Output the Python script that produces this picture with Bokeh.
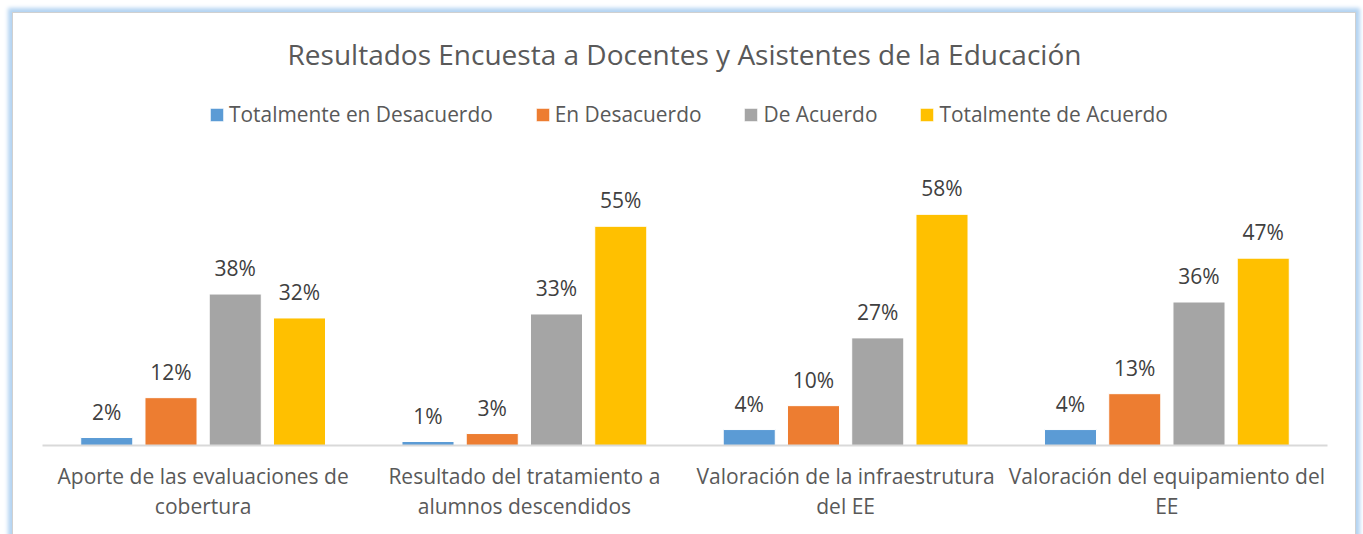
from bokeh.plotting import figure
from bokeh.models import ColumnDataSource, FactorRange, Range1d, LabelSet, Legend, LegendItem, Label
from bokeh.core.properties import value
from bokeh.transform import dodge
from bokeh.embed import file_html
from bokeh.resources import INLINE

title_text = "Resultados Encuesta a Docentes y Asistentes de la Educación"
categories = [
    "Aporte de las evaluaciones de\ncobertura",
    "Resultado del tratamiento a\nalumnos descendidos",
    "Valoración de la infraestrutura\ndel EE",
    "Valoración del equipamiento del\nEE",
]
series_names = ["Totalmente en Desacuerdo", "En Desacuerdo", "De Acuerdo", "Totalmente de Acuerdo"]
totalmente_desacuerdo = [2, 1, 4, 4]
en_desacuerdo = [12, 3, 10, 13]
de_acuerdo = [38, 33, 27, 36]
totalmente_acuerdo = [32, 55, 58, 47]

colors = ["#5B9BD5", "#ED7D31", "#A5A5A5", "#FFC000"]
series = [totalmente_desacuerdo, en_desacuerdo, de_acuerdo, totalmente_acuerdo]
offsets = [-0.3, -0.1, 0.1, 0.3]

data = {"cat": categories}
for i, s in enumerate(series):
    data[f"v{i}"] = s
    data[f"l{i}"] = [f"{v}%" for v in s]
src = ColumnDataSource(data)

FONT = "Open Sans"
TXT = "#595959"

FRAME_H = 432          # frame spans the figure from its top down to the axis
PX_PER_70 = 279        # pixels for 70% in the reference
y_end = 70 * FRAME_H / PX_PER_70

p = figure(
    width=1342, height=521,
    x_range=FactorRange(*categories, range_padding=0),
    y_range=Range1d(0, y_end),
    output_backend="svg", toolbar_location=None,
    min_border_left=29, min_border_right=28, min_border_top=0, min_border_bottom=89,
    background_fill_color="white", border_fill_color="white",
)
p.outline_line_color = None
p.xgrid.visible = False
p.ygrid.visible = False
p.yaxis.visible = False
p.xaxis.axis_line_color = "#D9D9D9"
p.xaxis.axis_line_width = 2
p.xaxis.major_tick_line_color = None
p.xaxis.minor_tick_line_color = None
p.xaxis.major_label_text_font = FONT
p.xaxis.major_label_text_font_size = "21px"
p.xaxis.major_label_text_color = TXT
p.xaxis.major_label_text_line_height = 1.1
p.xaxis.major_label_standoff = 10

items = []
for i, (name, col, off) in enumerate(zip(series_names, colors, offsets)):
    r = p.vbar(x=dodge("cat", off, range=p.x_range), top=f"v{i}", width=0.162, source=src,
               fill_color=col, line_color="white", line_width=1)
    items.append(LegendItem(label=name, renderers=[r]))
    p.add_layout(LabelSet(x=dodge("cat", off, range=p.x_range), y=f"v{i}", text=f"l{i}", source=src,
                          y_offset=18, text_align="center", text_baseline="alphabetic",
                          text_font=value(FONT), text_font_size=value("21px"),
                          text_color=value("#404040")))

legend = Legend(items=items, orientation="horizontal", location=(166, 317),
                glyph_width=17, glyph_height=17, label_standoff=4, spacing=41,
                padding=0, margin=0, border_line_color=None, background_fill_alpha=0,
                label_text_font=FONT, label_text_font_size="20.9px", label_text_color=TXT)
p.add_layout(legend, "center")

p.add_layout(Label(x=642, y=392, x_units="screen", y_units="screen", text=title_text,
                   text_align="center", text_baseline="alphabetic",
                   text_font=FONT, text_font_size="28px", text_color=TXT))

p.styles = {"margin-left": "13px", "margin-top": "13px",
            "box-shadow": "0 0 4px 5px #B4D4F2", "outline": "1px solid #D0D0D0"}

open("out.html", "w").write(file_html(p, INLINE))
